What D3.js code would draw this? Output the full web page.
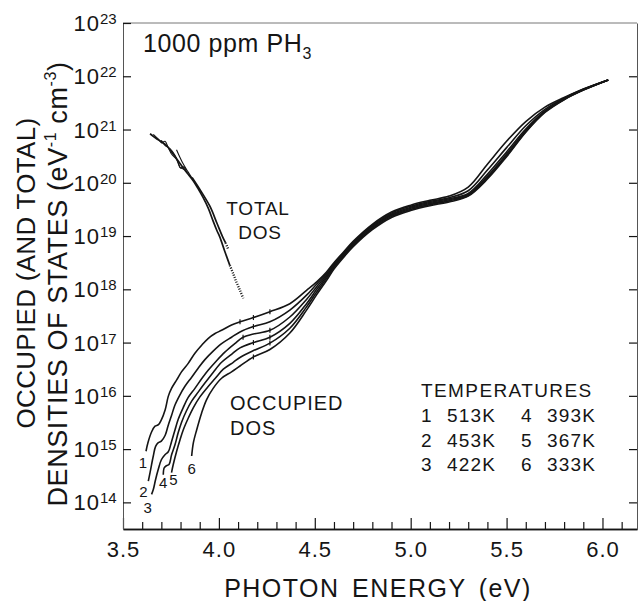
<!DOCTYPE html>
<html>
<head>
<meta charset="utf-8">
<script src="https://cdn.jsdelivr.net/npm/d3@7"></script>
<style>
body{margin:0;background:#fff;}
svg{display:block;font-family:'Liberation Sans',Arial,Helvetica,sans-serif;}
</style>
</head>
<body>
<svg width="639" height="601"></svg>
<script>
// photon energy (eV) ticks and log10 decades for the DOS axis
var energyMajor = [3.5, 4.0, 4.5, 5.0, 5.5, 6.0];
var energyMinor = [3.6, 3.7, 3.8, 3.9, 4.1, 4.2, 4.3, 4.4, 4.6, 4.7, 4.8, 4.9,
                   5.1, 5.2, 5.3, 5.4, 5.6, 5.7, 5.8, 5.9, 6.1];
var decades = [14, 15, 16, 17, 18, 19, 20, 21, 22, 23];

// legend
var curveIds = [1, 2, 3, 4, 5, 6];
var temperaturesK = [513, 453, 422, 393, 367, 333];

// energies where each occupied curve carries a small data mark
var markEnergies = [[4.11, 4.18, 4.266], [4.18], [4.126, 4.266], [4.18, 4.266], [4.266], [4.18]];

// occupied DOS, [energy eV, log10 DOS]
var occ1 = [[3.62,14.96],[3.63,15.12],[3.65,15.33],[3.667,15.43],[3.685,15.46],[3.70,15.55],
  [3.72,15.74],[3.736,15.99],[3.753,16.14],[3.78,16.30],[3.805,16.45],[3.84,16.61],[3.875,16.80],
  [3.91,16.95],[3.945,17.08],[3.98,17.17],[4.014,17.23],[4.066,17.33],[4.11,17.39],[4.18,17.47],
  [4.266,17.58],[4.37,17.73],[4.457,17.98],[4.51,18.14],[4.56,18.32],[4.6,18.50],[4.65,18.70],
  [4.7,18.90],[4.8,19.22],[4.9,19.45],[5.0,19.58],[5.1,19.67],[5.2,19.75],[5.3,19.92],[5.4,20.35],
  [5.5,20.78],[5.6,21.15],[5.7,21.42],[5.8,21.60],[5.9,21.76],[6.03,21.93]];
var occ2 = [[3.632,14.40],[3.641,14.56],[3.649,14.71],[3.658,14.87],[3.67,15.05],[3.684,15.12],
  [3.70,15.15],[3.72,15.26],[3.736,15.45],[3.753,15.63],[3.77,15.82],[3.797,16.02],[3.823,16.18],
  [3.858,16.35],[3.892,16.52],[3.927,16.68],[3.97,16.84],[4.014,16.98],[4.066,17.10],[4.11,17.20],
  [4.18,17.30],[4.266,17.39],[4.37,17.61],[4.457,17.89],[4.51,18.10],[4.56,18.29],[4.6,18.48],
  [4.65,18.68],[4.7,18.88],[4.8,19.20],[4.9,19.43],[5.0,19.56],[5.1,19.65],[5.2,19.72],[5.3,19.85],
  [5.4,20.24],[5.5,20.66],[5.6,21.07],[5.7,21.38],[5.8,21.59],[5.9,21.755],[6.03,21.93]];
var occ3 = [[3.649,14.15],[3.658,14.24],[3.67,14.43],[3.684,14.62],[3.70,14.80],[3.72,14.90],
  [3.736,14.95],[3.753,15.14],[3.771,15.36],[3.788,15.56],[3.814,15.78],[3.84,15.97],[3.875,16.14],
  [3.91,16.32],[3.944,16.48],[3.988,16.66],[4.031,16.82],[4.083,16.98],[4.126,17.10],[4.18,17.16],
  [4.266,17.23],[4.37,17.48],[4.457,17.81],[4.51,18.05],[4.56,18.26],[4.6,18.45],[4.65,18.66],
  [4.7,18.86],[4.8,19.18],[4.9,19.41],[5.0,19.54],[5.1,19.63],[5.2,19.70],[5.3,19.80],[5.4,20.16],
  [5.5,20.58],[5.6,21.01],[5.7,21.35],[5.8,21.58],[5.9,21.75],[6.03,21.93]];
var occ4 = [[3.71,14.52],[3.715,14.65],[3.727,14.69],[3.74,14.71],[3.753,14.89],[3.771,15.08],
  [3.788,15.31],[3.805,15.50],[3.831,15.72],[3.858,15.90],[3.892,16.07],[3.927,16.24],[3.97,16.44],
  [4.014,16.63],[4.066,16.78],[4.11,16.90],[4.18,17.00],[4.266,17.10],[4.37,17.36],[4.457,17.73],
  [4.51,18.00],[4.56,18.23],[4.6,18.43],[4.65,18.64],[4.7,18.84],[4.8,19.16],[4.9,19.39],[5.0,19.52],
  [5.1,19.61],[5.2,19.68],[5.3,19.78],[5.4,20.12],[5.5,20.54],[5.6,20.98],[5.7,21.34],[5.8,21.57],
  [5.9,21.745],[6.03,21.93]];
var occ5 = [[3.753,14.56],[3.762,14.71],[3.779,14.95],[3.797,15.17],[3.814,15.36],[3.84,15.58],
  [3.867,15.78],[3.901,15.98],[3.936,16.14],[3.979,16.32],[4.023,16.50],[4.075,16.63],[4.11,16.72],
  [4.18,16.85],[4.266,16.99],[4.37,17.27],[4.457,17.67],[4.51,17.95],[4.56,18.20],[4.6,18.41],
  [4.65,18.62],[4.7,18.82],[4.8,19.14],[4.9,19.37],[5.0,19.50],[5.1,19.59],[5.2,19.66],[5.3,19.76],
  [5.4,20.09],[5.5,20.51],[5.6,20.96],[5.7,21.33],[5.8,21.565],[5.9,21.74],[6.03,21.93]];
var occ6 = [[3.858,14.87],[3.867,15.12],[3.884,15.36],[3.91,15.68],[3.936,15.93],[3.97,16.14],
  [4.014,16.33],[4.066,16.45],[4.11,16.56],[4.18,16.73],[4.266,16.87],[4.37,17.18],[4.457,17.61],
  [4.51,17.90],[4.56,18.16],[4.6,18.38],[4.65,18.60],[4.7,18.80],[4.8,19.12],[4.9,19.35],[5.0,19.48],
  [5.1,19.57],[5.2,19.64],[5.3,19.75],[5.4,20.07],[5.5,20.49],[5.6,20.95],[5.7,21.32],[5.8,21.56],
  [5.9,21.74],[6.03,21.93]];

// total DOS strands
var total1 = [[3.641,20.92],[3.67,20.84],[3.70,20.77],[3.727,20.70],[3.76,20.55],[3.79,20.40],
  [3.814,20.28],[3.84,20.16],[3.866,20.04],[3.89,19.90],[3.918,19.72],[3.945,19.52],[3.97,19.28],
  [3.99,19.10],[4.005,18.98],[4.03,18.72],[4.057,18.45]];
var total1Tail = [[4.057,18.45],[4.075,18.29],[4.092,18.13],[4.11,17.98],[4.127,17.83]];
var total2 = [[3.86,20.10],[3.90,19.88],[3.953,19.56],[3.99,19.24],[4.02,18.98],[4.035,18.87]];
var total2Tail = [[4.035,18.87],[4.042,18.81],[4.05,18.74]];
var total3 = [[3.779,20.62],[3.81,20.38],[3.84,20.20],[3.87,20.03]];
var total4 = [[3.658,20.91],[3.684,20.82],[3.701,20.75],[3.719,20.78],[3.736,20.66],[3.753,20.54],
  [3.779,20.44],[3.797,20.29],[3.814,20.26],[3.831,20.23]];
var total5 = [[3.70,20.80],[3.72,20.70],[3.745,20.64],[3.77,20.52],[3.79,20.36],[3.80,20.28],
  [3.815,20.30],[3.83,20.24]];

var occupied = [occ1, occ2, occ3, occ4, occ5, occ6];
var totalSolid = [total1, total2, total3, total4, total5];
var totalDotted = [total1Tail, total2Tail];

var svg = d3.select('svg');
var ink = '#151515';

var x = d3.scaleLinear().domain([3.5, 6.18]).range([123, 637]);
var y = d3.scaleLog().domain([Math.pow(10, 13.5), 1e23]).range([529, 23]);

function px(d){ return x(d[0]); }
function py(d){ return y(Math.pow(10, d[1])); }

var line = d3.line().x(px).y(py).curve(d3.curveCatmullRom);

// frame top
svg.append('line')
    .attr('x1', x.range()[0]).attr('x2', x.range()[1])
    .attr('y1', y.range()[1]).attr('y2', y.range()[1])
    .style('stroke', '#777').style('stroke-width', 1);

// bottom axis: minor and major ticks pointing up
svg.append('g')
    .attr('transform', 'translate(0,' + y.range()[0] + ')')
    .call(d3.axisBottom(x).tickValues(energyMinor).tickSize(-7).tickSizeOuter(0).tickFormat(''));
var xMajor = svg.append('g')
    .attr('transform', 'translate(0,' + y.range()[0] + ')')
    .call(d3.axisBottom(x).tickValues(energyMajor).tickSizeInner(-11).tickSizeOuter(0)
        .tickPadding(12).tickFormat(d3.format('.1f')));
xMajor.selectAll('text')
    .style('font-size', '22px')
    .style('letter-spacing', '1px')
    .style('fill', ink);

// left and right axes
var yLeft = svg.append('g')
    .attr('transform', 'translate(' + x.range()[0] + ',0)')
    .call(d3.axisLeft(y).tickValues(decades.map(function(d){ return Math.pow(10, d); }))
        .tickSize(-8).tickSizeOuter(0).tickFormat(''));
var yRight = svg.append('g')
    .attr('transform', 'translate(' + x.range()[1] + ',0)')
    .call(d3.axisRight(y).tickValues(decades.slice(0, -1).map(function(d){ return Math.pow(10, d); }))
        .tickSize(-8).tickSizeOuter(0).tickFormat(''));

svg.selectAll('.domain').style('stroke', ink).style('stroke-width', 1.5);
svg.selectAll('.tick line').style('stroke', ink).style('stroke-width', 1.2);
yLeft.select('.domain').style('stroke', '#555').style('stroke-width', 1);
yRight.select('.domain').style('stroke', '#555').style('stroke-width', 1);

// decade labels 10^n
svg.append('g').selectAll('text')
    .data(decades)
    .enter().append('text')
    .attr('x', 100)
    .attr('y', function(d){ return y(Math.pow(10, d)) + 8; })
    .attr('text-anchor', 'end')
    .style('font-size', '22px')
    .style('letter-spacing', '1px')
    .style('fill', ink)
    .text('10');
svg.append('g').selectAll('text')
    .data(decades)
    .enter().append('text')
    .attr('x', 100)
    .attr('y', function(d){ return y(Math.pow(10, d)) + 1; })
    .style('font-size', '15px')
    .style('fill', ink)
    .text(function(d){ return d; });

// curves
svg.append('g').selectAll('path')
    .data(occupied)
    .enter().append('path')
    .attr('d', line)
    .style('fill', 'none')
    .style('stroke', ink)
    .style('stroke-width', 1.6);

// little data marks across the occupied curves
svg.append('g').selectAll('line')
    .data(d3.merge(occupied.map(function(c, i){
        return c.filter(function(p){ return markEnergies[i].indexOf(p[0]) >= 0; });
    })))
    .enter().append('line')
    .attr('x1', px).attr('x2', px)
    .attr('y1', function(d){ return py(d) - 2.5; })
    .attr('y2', function(d){ return py(d) + 2.5; })
    .style('stroke', ink)
    .style('stroke-width', 1.2);

svg.append('g').selectAll('path')
    .data(totalSolid)
    .enter().append('path')
    .attr('d', line)
    .style('fill', 'none')
    .style('stroke', ink)
    .style('stroke-width', function(d, i){ return i > 1 ? 1.1 : 1.7; });

svg.append('g').selectAll('path')
    .data(totalDotted)
    .enter().append('path')
    .attr('d', line)
    .style('fill', 'none')
    .style('stroke', ink)
    .style('stroke-width', 2.4)
    .style('stroke-dasharray', '1,1.5');

// curve numbers just below the start of each occupied curve
var labelNudge = [[-3, 17], [-5, 16], [-4, 19], [0, 13], [2, 12], [0, 18]];
svg.append('g').selectAll('text')
    .data(occupied)
    .enter().append('text')
    .attr('x', function(d, i){ return px(d[0]) + labelNudge[i][0]; })
    .attr('y', function(d, i){ return py(d[0]) + labelNudge[i][1]; })
    .attr('text-anchor', 'middle')
    .style('font-size', '15px')
    .style('fill', ink)
    .text(function(d, i){ return curveIds[i]; });

// title
var title = svg.append('text')
    .attr('x', 143)
    .attr('y', 52)
    .style('font-size', '25px')
    .style('letter-spacing', '0.6px')
    .style('fill', ink)
    .text('1000 ppm PH');
title.append('tspan')
    .attr('dy', 7)
    .style('font-size', '16px')
    .text('3');

// annotations
svg.append('text')
    .attr('x', 258).attr('y', 215)
    .attr('text-anchor', 'middle')
    .style('font-size', '19px').style('letter-spacing', '0.8px').style('fill', ink)
    .text('TOTAL');
svg.append('text')
    .attr('x', 260).attr('y', 239)
    .attr('text-anchor', 'middle')
    .style('font-size', '19px').style('letter-spacing', '0.8px').style('fill', ink)
    .text('DOS');
svg.append('text')
    .attr('x', 230).attr('y', 410)
    .style('font-size', '20px').style('letter-spacing', '1px').style('fill', ink)
    .text('OCCUPIED');
svg.append('text')
    .attr('x', 230).attr('y', 435)
    .style('font-size', '20px').style('letter-spacing', '1px').style('fill', ink)
    .text('DOS');

// temperature legend
svg.append('text')
    .attr('x', 421).attr('y', 397)
    .style('font-size', '19px').style('letter-spacing', '1.4px').style('fill', ink)
    .text('TEMPERATURES');
var legend = svg.append('g').selectAll('g')
    .data(curveIds)
    .enter().append('g')
    .attr('transform', function(d, i){
        return 'translate(' + (421 + Math.floor(i / 3) * 100) + ',' + (422 + (i % 3) * 24.5) + ')';
    });
legend.append('text')
    .style('font-size', '19px').style('letter-spacing', '1.2px').style('fill', ink)
    .text(function(d){ return d; });
legend.append('text')
    .attr('x', 26)
    .style('font-size', '19px').style('letter-spacing', '1.2px').style('fill', ink)
    .text(function(d, i){ return temperaturesK[i] + 'K'; });

// axis titles
svg.append('text')
    .attr('x', 378)
    .attr('y', 597)
    .attr('text-anchor', 'middle')
    .style('font-size', '25px')
    .style('letter-spacing', '1.5px')
    .style('word-spacing', '4px')
    .style('fill', ink)
    .text('PHOTON ENERGY (eV)');

svg.append('text')
    .attr('transform', 'translate(35,273) rotate(-90)')
    .attr('text-anchor', 'middle')
    .style('font-size', '26px')
    .style('letter-spacing', '0.3px')
    .style('fill', ink)
    .text('OCCUPIED (AND TOTAL)');

var yTitle2 = svg.append('text')
    .attr('transform', 'translate(67,284) rotate(-90)')
    .attr('text-anchor', 'middle')
    .style('font-size', '27px')
    .style('letter-spacing', '0.6px')
    .style('fill', ink);
yTitle2.append('tspan').text('DENSITIES OF STATES  (eV');
yTitle2.append('tspan').attr('dy', -11).style('font-size', '16px').text('-1');
yTitle2.append('tspan').attr('dy', 11).text(' cm');
yTitle2.append('tspan').attr('dy', -11).style('font-size', '16px').text('-3');
yTitle2.append('tspan').attr('dy', 11).text(')');
</script>
</body>
</html>
